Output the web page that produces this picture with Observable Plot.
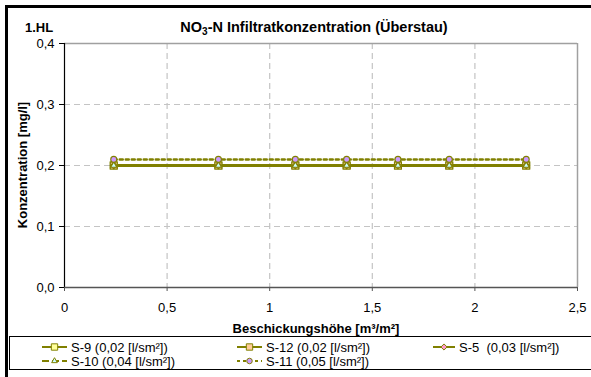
<!DOCTYPE html>
<html>
<head>
<meta charset="utf-8">
<script src="https://cdn.jsdelivr.net/npm/d3@7"></script>
<script src="https://cdn.jsdelivr.net/npm/@observablehq/plot@0.6"></script>
<style>
  html, body { margin: 0; padding: 0; background: #fff; overflow: hidden; }
  #chart { width: 591px; height: 377px; overflow: hidden; }
  #chart svg { display: block; }
</style>
</head>
<body>
<div id="chart"></div>
<script>
// ---- data ----
const xValues = [0.24, 0.75, 1.125, 1.375, 1.625, 1.875, 2.25];
const seriesNames = ["S-9 (0,02 [l/sm²])", "S-12 (0,02 [l/sm²])", "S-5  (0,03 [l/sm²])", "S-10 (0,04 [l/sm²])", "S-11 (0,05 [l/sm²])"];
const s9  = [0.2, 0.2, 0.2, 0.2, 0.2, 0.2, 0.2];
const s12 = [0.2, 0.2, 0.2, 0.2, 0.2, 0.2, 0.2];
const s5  = [0.2, 0.2, 0.2, 0.2, 0.2, 0.2, 0.2];
const s10 = [0.2, 0.2, 0.2, 0.2, 0.2, 0.2, 0.2];
const s11 = [0.21, 0.21, 0.21, 0.21, 0.21, 0.21, 0.21];
const xTicks = [0, 0.5, 1, 1.5, 2, 2.5];
const yTicks = [0, 0.1, 0.2, 0.3, 0.4];
const chartTitle = "1.HL";
const xLabel = "Beschickungshöhe [m³/m²]";
const yLabel = "Konzentration [mg/l]";

// ---- styles ----
const olive = "#808000";
const styles = [
  {symbol: "square",   fill: "#ffff99", r: 3.9, dash: null},
  {symbol: "square",   fill: "#ffcc99", r: 3.9, dash: null},
  {symbol: "diamond2", fill: "#ff99cc", r: 3.0, dash: null},
  {symbol: "triangle", fill: "#ccffff", r: 2.3, dash: "7,3"},
  {symbol: "circle",   fill: "#cc99ff", r: 3.0, dash: "3,3"}
];
const seriesValues = [s9, s12, s5, s10, s11];
const tables = seriesValues.map((vals, i) => xValues.map((x, j) => ({x, y: vals[j], series: seriesNames[i]})));

const commaFmt = d => String(d).replace(".", ",");
const yFmt = d => d3.format(".1f")(d).replace(".", ",");
const grid = {stroke: "#c4c4c4", strokeOpacity: 1, strokeWidth: 1.2, strokeDasharray: "6,4"};

const marks = [
  Plot.gridX([0.5, 1, 1.5, 2], grid),
  Plot.gridY([0.1, 0.2, 0.3], grid),
  Plot.ruleY([0.4], {stroke: "#a0a0a0", strokeWidth: 1.5}),
  Plot.ruleX([2.5], {stroke: "#a0a0a0", strokeWidth: 1.5}),
  Plot.axisY({ticks: yTicks, tickFormat: yFmt, tickSize: 5, tickPadding: 5, label: null, stroke: "#000", fill: "#000"}),
  Plot.axisX({ticks: xTicks, tickFormat: commaFmt, tickSize: 4, tickPadding: 11, label: null, stroke: "#555", fill: "#000"}),
  Plot.ruleX([0], {stroke: "#000", strokeWidth: 1.2}),
  Plot.ruleY([0], {stroke: "#555", strokeWidth: 1.5})
];
tables.forEach((t, i) => {
  const s = styles[i];
  marks.push(Plot.line(t, {x: "x", y: "y", stroke: olive, strokeWidth: 2.5, strokeDasharray: s.dash || undefined}));
});
tables.forEach((t, i) => {
  const s = styles[i];
  marks.push(Plot.dot(t, {x: "x", y: "y", symbol: s.symbol, r: s.r, fill: s.fill, stroke: olive, strokeWidth: 1.1}));
});

const chart = Plot.plot({
  width: 591, height: 377,
  marginLeft: 64, marginRight: 14, marginTop: 43, marginBottom: 90,
  x: {domain: [0, 2.5]},
  y: {domain: [0, 0.4]},
  style: {fontFamily: "'Liberation Sans', Arial, sans-serif", fontSize: "13px", background: "#fff", color: "#000", overflow: "hidden"},
  marks
});
document.getElementById("chart").appendChild(chart);

// ---- annotations (titles, frame, legend) ----
const svg = d3.select(chart);
const font = "'Liberation Sans', Arial, sans-serif";
svg.append("rect").attr("x", 6.5).attr("y", 6.5).attr("width", 700).attr("height", 500)
  .attr("fill", "none").attr("stroke", "#000").attr("stroke-width", 3);

svg.append("text").attr("x", 25).attr("y", 31.5).attr("text-anchor", "start").attr("font-family", font).attr("font-size", 13)
  .attr("font-weight", "bold").attr("fill", "#000").text(chartTitle);

const t = svg.append("text").attr("x", 314).attr("y", 31.5).attr("text-anchor", "middle")
  .attr("font-family", font).attr("font-size", 14.5).attr("font-weight", "bold").attr("fill", "#000");
t.append("tspan").text("NO");
t.append("tspan").attr("font-size", 10).attr("dy", 3).text("3");
t.append("tspan").attr("dy", -3).text("-N Infiltratkonzentration (Überstau)");

svg.append("text").attr("x", 316).attr("y", 333).attr("text-anchor", "middle")
  .attr("font-family", font).attr("font-size", 13).attr("font-weight", "bold").attr("fill", "#000").text(xLabel);

svg.append("text").attr("transform", "translate(27,165) rotate(-90)").attr("text-anchor", "middle")
  .attr("font-family", font).attr("font-size", 13).attr("font-weight", "bold").attr("fill", "#000").text(yLabel);

// legend
const lg = svg.append("g");
lg.append("rect").attr("x", 9.5).attr("y", 336.5).attr("width", 700).attr("height", 33)
  .attr("fill", "#fff").attr("stroke", "#000").attr("stroke-width", 1);
const legendPos = [
  {x: 42, y: 347}, {x: 237, y: 347}, {x: 433, y: 347},
  {x: 42, y: 361}, {x: 237, y: 361}
];
const symMap = {square: d3.symbolSquare, diamond2: d3.symbolDiamond2, triangle: d3.symbolTriangle, circle: d3.symbolCircle};
seriesNames.forEach((name, i) => {
  const p = legendPos[i], s = styles[i];
  const w = i === 2 ? 22 : 25;
  lg.append("line").attr("x1", p.x).attr("x2", p.x + w).attr("y1", p.y).attr("y2", p.y)
    .attr("stroke", olive).attr("stroke-width", 2).attr("stroke-dasharray", s.dash || null);
  lg.append("path").attr("transform", `translate(${p.x + w / 2},${p.y})`)
    .attr("d", d3.symbol(symMap[s.symbol], Math.PI * s.r * s.r * 0.85)())
    .attr("fill", s.fill).attr("stroke", olive).attr("stroke-width", 1);
  lg.append("text").attr("x", p.x + w + 4).attr("y", p.y + 4.5).attr("text-anchor", "start").attr("font-family", font)
    .attr("font-size", 13).attr("fill", "#000").style("white-space", "pre").text(name);
});
</script>
</body>
</html>
